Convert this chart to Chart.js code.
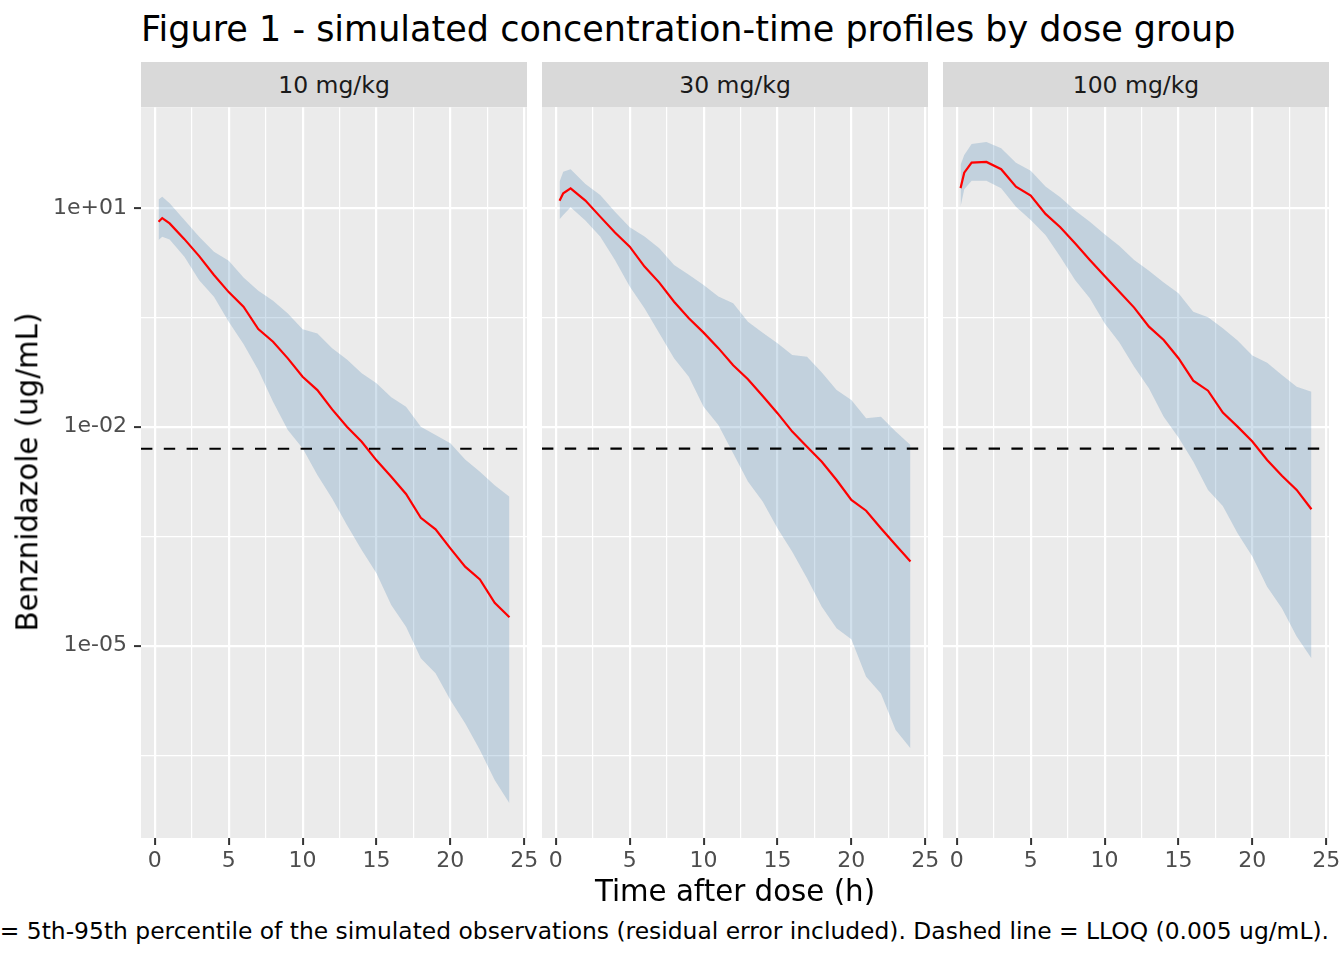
<html><head>
<meta charset="UTF-8">
<title>Figure 1 - simulated concentration-time profiles by dose group</title>
<script src="https://cdn.jsdelivr.net/npm/chart.js"></script>
<style>
body {
  margin: 0;
  width: 1344px;
  height: 960px;
  position: relative;
  overflow: hidden;
  background: #ffffff;
  font-family: "DejaVu Sans", sans-serif;
}

.title {
  position: absolute;
  left: 141px;
  top: 12px;
  font-size: 35px;
  line-height: 1;
  color: #000;
  white-space: nowrap;
}

.strip {
  position: absolute;
  top: 62px;
  width: 386px;
  height: 45px;
  background: #d9d9d9;
  color: #1a1a1a;
  font-size: 23.5px;
  display: flex;
  align-items: center;
  justify-content: center;
}

.panel {
  position: absolute;
  top: 87px;
}

.xtitle {
  position: absolute;
  left: 141px;
  width: 1188px;
  top: 877px;
  text-align: center;
  font-size: 29.3px;
  line-height: 1;
  color: #000;
}

.ytitle {
  position: absolute;
  left: 28px;
  top: 472px;
  transform: translate(-50%, -50%) rotate(-90deg);
  font-size: 29.3px;
  line-height: 1;
  color: #000;
  white-space: nowrap;
}

.caption {
  position: absolute;
  right: 15px;
  top: 920px;
  font-size: 23.4px;
  line-height: 1;
  color: #000;
  white-space: nowrap;
}
</style>
</head>
<body>

<div class="title">Figure 1 - simulated concentration-time profiles by dose group</div>

<div class="strip" style="left:141px">10 mg/kg</div>
<div class="strip" style="left:542px">30 mg/kg</div>
<div class="strip" style="left:943px">100 mg/kg</div>

<canvas id="panel10" class="panel" style="left:0px" width="542" height="791"></canvas>
<canvas id="panel30" class="panel" style="left:542px" width="401" height="791"></canvas>
<canvas id="panel100" class="panel" style="left:943px" width="401" height="791"></canvas>

<div class="ytitle">Benznidazole (ug/mL)</div>
<div class="xtitle">Time after dose (h)</div>
<div class="caption">= 5th-95th percentile of the simulated observations (residual error included). Dashed line = LLOQ (0.005 ug/mL).</div>

<script>
// time after dose (h)
const TIMES = [0.25, 0.5, 1, 2, 3, 4, 5, 6, 7, 8, 9, 10, 11, 12, 13, 14, 15, 16, 17, 18, 19, 20, 21, 22, 23, 24];

// 10 mg/kg
const MED_10 = [6.43, 7.23, 6.11, 3.72, 2.18, 1.20, 0.700, 0.441, 0.218, 0.146, 8.65e-2, 4.84e-2, 3.18e-2, 1.73e-2, 1.00e-2, 6.24e-3, 3.47e-3, 2.07e-3, 1.20e-3, 5.66e-4, 3.94e-4, 2.16e-4, 1.21e-4, 8.11e-5, 3.88e-5, 2.45e-5];
const P95_10 = [13.0, 14.2, 11.5, 6.79, 4.01, 2.49, 1.88, 1.11, 0.730, 0.532, 0.357, 0.216, 0.190, 0.119, 8.38e-2, 5.40e-2, 3.94e-2, 2.53e-2, 1.88e-2, 1.00e-2, 7.69e-3, 5.93e-3, 3.55e-3, 2.42e-3, 1.58e-3, 1.10e-3];
const P05_10 = [3.61, 4.01, 3.69, 2.13, 1.02, 0.604, 0.274, 0.136, 5.98e-2, 2.20e-2, 9.02e-3, 5.06e-3, 2.18e-3, 1.04e-3, 4.50e-4, 2.05e-4, 9.82e-5, 3.61e-5, 1.82e-5, 6.71e-6, 4.19e-6, 1.80e-6, 8.65e-7, 3.72e-7, 1.45e-7, 6.93e-8];

// 30 mg/kg
const MED_30 = [12.4, 15.7, 18.4, 12.5, 7.53, 4.55, 2.92, 1.56, 0.940, 0.515, 0.305, 0.194, 0.119, 6.93e-2, 4.46e-2, 2.63e-2, 1.53e-2, 8.55e-3, 5.32e-3, 3.31e-3, 1.86e-3, 9.91e-4, 7.06e-4, 4.06e-4, 2.39e-4, 1.42e-4];
const P95_30 = [22.7, 31.1, 33.6, 21.1, 14.9, 8.81, 5.38, 4.01, 2.78, 1.64, 1.20, 0.873, 0.604, 0.490, 0.274, 0.194, 0.139, 9.59e-2, 9.10e-2, 5.50e-2, 3.18e-2, 2.32e-2, 1.30e-2, 1.37e-2, 8.55e-3, 5.62e-3];
const P05_30 = [6.93, 7.94, 10.1, 6.64, 4.01, 1.92, 0.828, 0.419, 0.190, 8.65e-2, 4.84e-2, 1.88e-2, 1.05e-2, 4.33e-3, 1.77e-3, 9.40e-4, 4.06e-4, 1.94e-4, 8.38e-5, 3.42e-5, 1.73e-5, 1.22e-5, 3.76e-6, 2.22e-6, 7.00e-7, 3.93e-7];

// 100 mg/kg
const MED_100 = [18.5, 30.1, 41.3, 42.3, 33.6, 19.4, 14.6, 8.20, 5.38, 3.25, 1.92, 1.16, 0.706, 0.427, 0.234, 0.154, 8.65e-2, 4.27e-2, 3.11e-2, 1.56e-2, 1.00e-2, 6.24e-3, 3.50e-3, 2.13e-3, 1.36e-3, 7.38e-4];
const P95_100 = [38.5, 52.7, 74.6, 79.4, 65.0, 41.3, 32.1, 19.4, 13.9, 9.10, 6.43, 4.32, 2.99, 1.92, 1.37, 0.940, 0.671, 0.376, 0.316, 0.223, 0.151, 9.40e-2, 7.53e-2, 5.11e-2, 3.53e-2, 3.01e-2];
const P05_100 = [10.3, 17.9, 23.4, 23.4, 18.5, 10.3, 6.79, 4.23, 2.13, 1.02, 0.574, 0.261, 0.142, 6.64e-2, 3.36e-2, 1.37e-2, 7.08e-3, 3.32e-3, 1.36e-3, 8.20e-4, 3.47e-4, 1.66e-4, 6.43e-5, 3.25e-5, 1.33e-5, 6.71e-6];

const LLOQ = 0.005;

// axes
const X_MIN = -0.9375, X_MAX = 25.1875;
const X_MAJOR = [0, 5, 10, 15, 20, 25];
const X_MINOR = [2.5, 7.5, 12.5, 17.5, 22.5];
const Y_MIN = 2.32e-8, Y_MAX = 239;
const Y_MAJOR = [1e-5, 1e-2, 10];
const Y_MAJOR_LABELS = ['1e-05', '1e-02', '1e+01'];
const Y_MINOR = [3.162e-7, 3.162e-4, 0.3162];

const FONT = { family: '"DejaVu Sans", sans-serif', size: 22 };

const panelBg = {
  id: 'panelBg',
  beforeDraw(chart) {
    const a = chart.chartArea;
    const ctx = chart.ctx;
    ctx.save();
    ctx.fillStyle = '#ebebeb';
    ctx.fillRect(a.left, a.top, a.right - a.left, a.bottom - a.top);
    ctx.restore();
  }
};

function pts(values) {
  return TIMES.map((t, i) => ({ x: t, y: values[i] }));
}

function makePanel(id, med, p95, p05, showY) {
  const xTicks = X_MAJOR.concat(X_MINOR).sort((a, b) => a - b);
  const yTicks = Y_MAJOR.concat(Y_MINOR).sort((a, b) => a - b);

  new Chart(document.getElementById(id), {
    type: 'line',
    data: {
      datasets: [
        {
          data: [{ x: X_MIN, y: LLOQ }, { x: X_MAX, y: LLOQ }],
          borderColor: '#000000',
          borderWidth: 2.2,
          borderDash: [11.4, 11.4],
          pointRadius: 0,
          fill: false,
          order: 0
        },
        {
          data: pts(med),
          borderColor: '#ff0000',
          borderWidth: 2.2,
          pointRadius: 0,
          fill: false,
          order: 1
        },
        {
          data: pts(p95),
          borderWidth: 0,
          borderColor: 'rgba(0,0,0,0)',
          backgroundColor: 'rgba(70, 130, 180, 0.25)',
          pointRadius: 0,
          fill: '+1',
          order: 2
        },
        {
          data: pts(p05),
          borderWidth: 0,
          borderColor: 'rgba(0,0,0,0)',
          pointRadius: 0,
          fill: false,
          order: 3
        }
      ]
    },
    options: {
      responsive: false,
      animation: false,
      layout: { padding: { top: 20, right: 15, left: 0, bottom: 0 } },
      plugins: {
        legend: { display: false },
        tooltip: { enabled: false }
      },
      scales: {
        x: {
          type: 'linear',
          min: X_MIN,
          max: X_MAX,
          afterBuildTicks: (scale) => { scale.ticks = xTicks.map(v => ({ value: v })); },
          afterFit: (scale) => { scale.height = 40; },
          border: { display: false },
          grid: {
            color: '#ffffff',
            lineWidth: (ctx) => X_MAJOR.includes(ctx.tick.value) ? 2.2 : 1.2,
            tickColor: (ctx) => X_MAJOR.includes(ctx.tick.value) ? '#333333' : 'rgba(0,0,0,0)',
            tickWidth: 2,
            tickLength: 7
          },
          ticks: {
            autoSkip: false,
            maxRotation: 0,
            padding: 3,
            color: '#4d4d4d',
            font: FONT,
            callback: (v) => X_MAJOR.includes(v) ? String(v) : ''
          }
        },
        y: {
          type: 'logarithmic',
          min: Y_MIN,
          max: Y_MAX,
          afterBuildTicks: (scale) => { scale.ticks = yTicks.map(v => ({ value: v })); },
          afterFit: (scale) => { scale.width = showY ? 141 : 0; },
          border: { display: false },
          grid: {
            color: '#ffffff',
            lineWidth: (ctx) => Y_MAJOR.includes(ctx.tick.value) ? 2.2 : 1.2,
            tickColor: (ctx) => Y_MAJOR.includes(ctx.tick.value) ? '#333333' : 'rgba(0,0,0,0)',
            tickWidth: 2,
            tickLength: 7,
            drawTicks: showY
          },
          ticks: {
            display: showY,
            autoSkip: false,
            padding: 7,
            color: '#4d4d4d',
            font: FONT,
            callback: (v) => {
              const k = Y_MAJOR.indexOf(v);
              return k >= 0 ? Y_MAJOR_LABELS[k] : '';
            }
          }
        }
      }
    },
    plugins: [panelBg]
  });
}

makePanel('panel10', MED_10, P95_10, P05_10, true);
makePanel('panel30', MED_30, P95_30, P05_30, false);
makePanel('panel100', MED_100, P95_100, P05_100, false);
</script>

</body></html>
